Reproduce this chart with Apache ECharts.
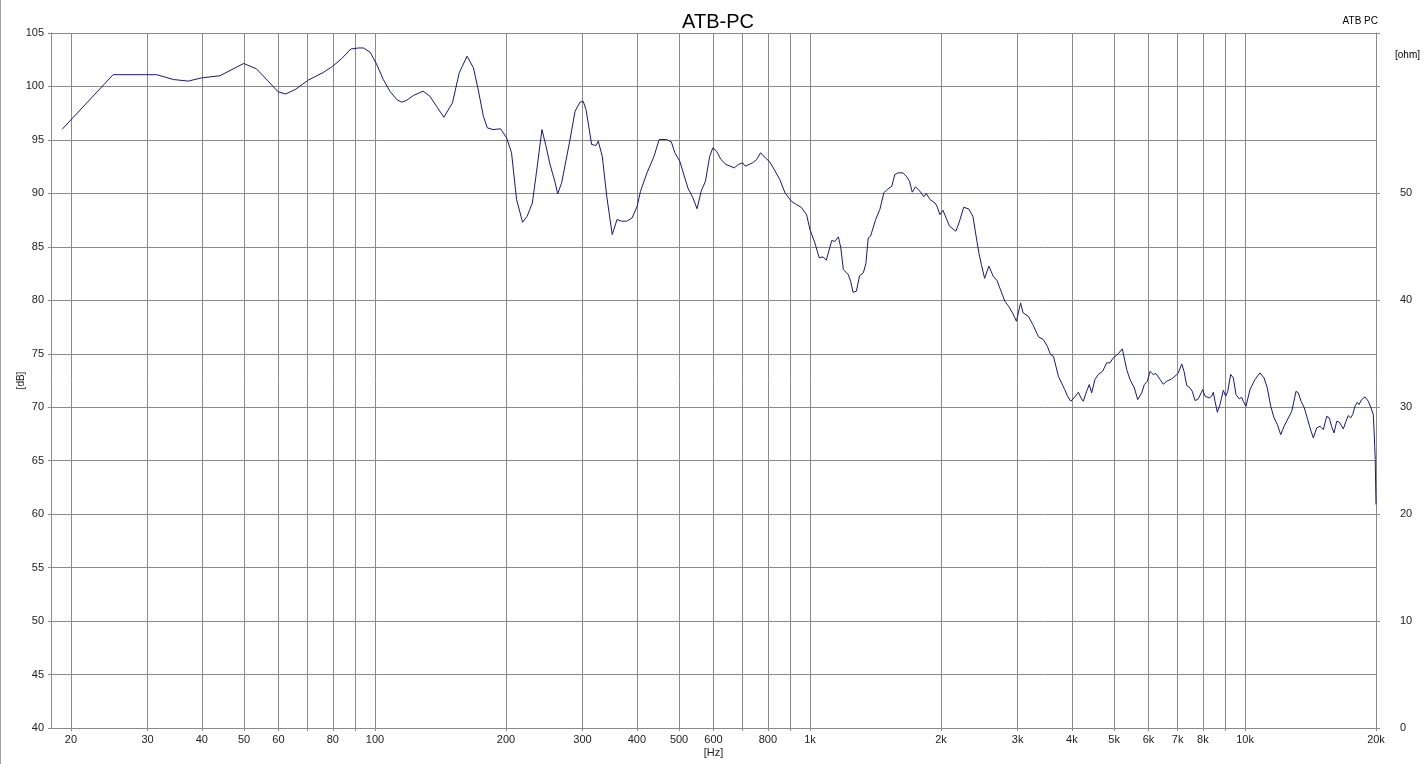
<!DOCTYPE html>
<html>
<head>
<meta charset="utf-8">
<script src="https://cdn.jsdelivr.net/npm/echarts@6/dist/echarts.min.js"></script>
<style>
html,body{margin:0;padding:0;background:#fff;}
#c{width:1424px;height:764px;}
</style>
</head>
<body>
<div id="c"></div>
<script>
// Frequency (Hz)
const freq = [
19.1,25.0,31.5,34.4,37.2,39.9,44,49.9,53.4,56.8,59.9,62.3,65.5,70.3,76,80,83.8,88,91.6,94.1,97.5,
100.8,104.5,108.2,112.2,115.2,118.3,122.5,129,133.7,138.5,144,150.7,156.2,162.8,168.4,172.7,177.5,181.2,186.8,194.4,
200.7,206,211.6,218.4,223.7,230,235,242,247,252.6,259,263,268.6,280.8,288.4,296,301,305.6,314.8,322,326,333,341,351,360,369,379,390,
400.6,407.7,422,438,450,468,480,489,502,524,538,550,562,575,588,598,610,624,641,670,684,700,710,738,754,770,790,806,823,852,876,906,930,955,982,
1000,1026,1050,1072,1090,1122,1140,1162,1177,1193,1224,1240,1256,1278,1300,1326,1344,1361,1378,1415,1447,1478,1504,1542,1566,1594,1636,1665,1693,1718,1748,1790,1826,1850,1888,1938,1958,1988,
2021,2093,2164,2200,2256,2316,2368,2420,2445,2477,2520,2577,2637,2690,2806,2860,2920,2982,
3048,3088,3176,3252,3352,3438,3512,3572,3626,3724,3850,3902,3974,4044,4086,4138,4196,4248,4324,4384,4440,4518,4598,4706,4808,4892,4978,
5112,5222,5346,5440,5566,5666,5788,5868,5962,6048,6152,6242,6376,6486,6604,6782,6902,7024,7152,7240,7344,7472,7564,7674,7808,7992,
8090,8276,8382,8454,8530,8636,8760,8914,9028,9124,9268,9398,9532,9700,9824,9906,10050,10264,10540,10822,11054,11250,11456,11660,11866,12080,12294,12576,12804,
13098,13260,13450,13688,13932,14104,14354,14614,14872,15136,15410,15620,15822,16014,16246,16470,16822,17064,17272,17492,17678,17894,18114,18278,18540,18868,
19200,19478,19716,19800,19870,19920,19960,20000
];
// SPL (dB)
const spl = [
96.0,101.1,101.1,100.65,100.5,100.8,101.0,102.15,101.65,100.5,99.5,99.3,99.7,100.6,101.3,101.9,102.6,103.5,103.6,103.6,103.2,
102.1,100.65,99.56,98.78,98.53,98.71,99.15,99.56,99.09,98.15,97.12,98.47,101.28,102.83,101.74,99.7,97.2,96.13,95.97,96.04,
95.2,93.8,89.42,87.3,87.86,89.1,91.92,95.97,94.48,92.7,91.14,89.96,90.99,95.04,97.69,98.53,98.62,97.84,94.57,94.48,94.88,93.47,89.73,86.15,87.55,87.4,87.4,87.7,
88.8,90.2,91.92,93.47,95.04,95.04,94.82,93.8,93.0,90.5,89.58,88.56,90.2,91.14,93.47,94.26,93.94,93.17,92.7,92.39,92.7,92.86,92.54,92.86,93.17,93.8,93.3,93.0,92.4,91.3,90.05,89.27,88.96,88.7,88.0,
86.6,85.37,83.97,84.06,83.75,85.6,85.5,85.93,84.9,82.88,82.41,81.78,80.75,80.85,82.3,82.57,83.44,85.84,86.0,87.55,88.49,90.05,90.36,90.67,91.76,91.92,91.92,91.6,91.14,90.11,90.61,90.2,89.68,89.99,89.42,89.1,88.8,88.02,
88.42,86.93,86.46,87.24,88.7,88.55,87.86,85.5,84.4,83.34,82.05,83.2,82.25,81.85,79.9,79.45,78.83,78.04,
79.76,78.83,78.5,77.73,76.58,76.33,75.7,74.92,74.77,72.9,71.65,71.09,70.56,70.87,70.78,71.4,70.87,70.56,71.49,72.12,71.34,72.59,73.06,73.36,74.15,74.15,74.62,
75.0,75.46,73.52,72.59,71.8,70.72,71.34,72.12,72.43,73.36,73.06,73.15,72.6,72.15,72.43,72.65,72.9,73.2,74.05,73.36,72.03,71.81,71.49,70.62,70.78,71.65,
71.03,70.87,71.03,71.4,70.56,69.53,70.25,71.58,71.03,71.49,73.06,72.75,71.18,70.78,70.93,70.56,70.09,71.65,72.59,73.21,72.75,71.81,70.09,69.0,68.38,67.44,68.22,69.0,69.62,
71.49,71.34,70.56,69.93,68.84,68.07,67.13,68.07,68.22,67.91,69.16,69.0,68.16,67.6,68.69,68.6,67.97,68.69,69.22,69.0,69.31,70.09,70.46,70.25,70.72,70.97,
70.56,69.93,69.31,67.75,66.2,65.1,62.9,60.9
];
// Axis ticks
const xGridValues = [20,30,40,50,60,70,80,90,100,200,300,400,500,600,700,800,900,1000,2000,3000,4000,5000,6000,7000,8000,9000,10000,20000];
const xLabelValues = [20,30,40,50,60,80,100,200,300,400,500,600,800,1000,2000,3000,4000,5000,6000,7000,8000,10000,20000];
const dbTicks = {min:40, max:105, interval:5};
const ohmTicks = {min:0, max:65, interval:10, hidden:[60]};

const FONT = '"Liberation Sans", Arial, sans-serif';
const GRID_COLOR = '#8a8a8a';
const LABEL_COLOR = '#222';

const chart = echarts.init(document.getElementById('c'), null, {renderer:'canvas'});
chart.setOption({
  animation:false,
  backgroundColor:'#ffffff',
  title:[
    {text:'ATB-PC', left:713, top:7, textAlign:'center',
     textStyle:{fontFamily:FONT, fontSize:20, fontWeight:'normal', color:'#000'}},
    {text:'ATB PC', right:41, top:11,
     textStyle:{fontFamily:FONT, fontSize:10, fontWeight:'normal', color:'#000'}}
  ],
  graphic:[
    {type:'text', left:1395, top:50, style:{text:'[ohm]', font:'10px '+FONT, fill:'#000'}},
    {type:'line', shape:{x1:0.5,y1:0,x2:0.5,y2:764}, style:{stroke:'#a0a0a0', lineWidth:1}}
  ],
  grid:{left:51, right:48, top:33, bottom:36, containLabel:false, outerBoundsMode:'none'},
  xAxis:{
    type:'log', logBase:10, min:18, max:20000,
    name:'[Hz]', nameLocation:'middle', nameGap:19, nameMoveOverlap:false,
    nameTextStyle:{fontFamily:FONT, fontSize:11, color:LABEL_COLOR},
    axisLine:{show:true, lineStyle:{color:GRID_COLOR}},
    axisTick:{show:true, length:3, inside:false, customValues:xGridValues, lineStyle:{color:GRID_COLOR}},
    axisLabel:{customValues:xLabelValues, margin:6, fontFamily:FONT, fontSize:11, color:LABEL_COLOR,
      formatter:v => v>=1000 ? (v/1000)+'k' : String(v)},
    splitLine:{show:true, lineStyle:{color:GRID_COLOR, width:1}},
    minorSplitLine:{show:false}
  },
  yAxis:[
    {type:'value', min:dbTicks.min, max:dbTicks.max, interval:dbTicks.interval,
     name:'[dB]', nameLocation:'middle', nameRotate:90, nameGap:25, nameMoveOverlap:false,
     nameTextStyle:{fontFamily:FONT, fontSize:10, color:LABEL_COLOR},
     axisLine:{show:true, lineStyle:{color:GRID_COLOR}},
     axisTick:{show:true, length:3, lineStyle:{color:GRID_COLOR}},
     axisLabel:{margin:7, fontFamily:FONT, fontSize:11, color:LABEL_COLOR},
     splitLine:{show:true, lineStyle:{color:GRID_COLOR, width:1}}},
    {type:'value', position:'right', min:ohmTicks.min, max:ohmTicks.max, interval:ohmTicks.interval,
     axisLine:{show:true, lineStyle:{color:GRID_COLOR}},
     axisTick:{show:true, length:4, lineStyle:{color:GRID_COLOR}},
     axisLabel:{margin:24, fontFamily:FONT, fontSize:11, color:LABEL_COLOR,
       formatter:v => (ohmTicks.hidden.includes(v) || v>60) ? '' : String(v)},
     splitLine:{show:false}}
  ],
  series:[{
    type:'line', yAxisIndex:0, showSymbol:false, symbol:'none',
    lineStyle:{color:'#18187a', width:1}, itemStyle:{color:'#18187a'},
    data: freq.map((f,i)=>[f, spl[i]])
  }]
});
</script>
</body>
</html>
